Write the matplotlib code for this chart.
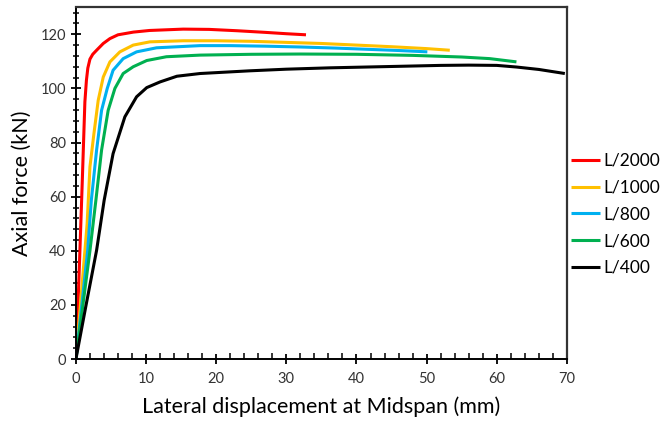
import matplotlib
matplotlib.use("Agg")
import matplotlib.pyplot as plt
from matplotlib.ticker import MultipleLocator

plt.rcParams['font.family'] = ['Lato', 'DejaVu Sans']

# data (lateral displacement mm, axial force kN)
labels = ['L/2000', 'L/1000', 'L/800', 'L/600', 'L/400']
colors = ['#FF0000', '#FFC000', '#00B0F0', '#00B050', '#000000']

x_2000 = [0, 0.3, 0.57, 0.9, 1.28, 1.5, 1.7, 2.0, 2.4, 2.95, 3.9, 4.85, 6.0, 8.2, 10.5, 15.3, 19, 23, 27, 30, 32.8]
y_2000 = [0, 20, 40, 65, 95, 103, 107.5, 110.8, 112.6, 114.1, 116.6, 118.4, 119.8, 120.8, 121.4, 121.9, 121.8, 121.3, 120.7, 120.2, 119.8]

x_1000 = [0, 0.64, 1.28, 1.6, 2.0, 2.57, 3.18, 3.9, 4.85, 6.27, 8.17, 10.55, 15.3, 20, 25, 30, 35, 40, 45, 50, 53.3]
y_1000 = [0, 20, 40, 50, 71, 83.3, 95.6, 104.2, 109.8, 113.5, 116, 117.2, 117.6, 117.6, 117.4, 117, 116.6, 116, 115.4, 114.7, 114.1]

x_800 = [0, 0.84, 1.67, 2.2, 2.95, 3.66, 4.47, 5.3, 6.74, 8.65, 11.5, 17.7, 22, 27, 32, 37, 42, 46, 50.1]
y_800 = [0, 20, 40, 58.7, 77.2, 91.9, 100, 106.7, 111, 113.5, 115, 115.8, 115.8, 115.6, 115.3, 114.9, 114.4, 114, 113.5]

x_600 = [0, 1.0, 2.0, 2.85, 3.66, 4.6, 5.56, 6.74, 8.17, 10.1, 12.9, 17.7, 25, 32, 40, 48, 55, 59, 62.8]
y_600 = [0, 20, 40, 58.7, 77.2, 91.9, 100, 105.5, 108, 110.3, 111.7, 112.3, 112.6, 112.7, 112.6, 112.2, 111.6, 111, 109.8]

x_400 = [0, 1.43, 2.95, 4.03, 5.3, 6.98, 8.65, 10.1, 12.0, 14.4, 17.7, 24.8, 30, 36.2, 45, 52, 56, 60, 62.8, 66, 69.7]
y_400 = [0, 19.7, 40.2, 58.7, 75.9, 89.5, 96.9, 100.3, 102.4, 104.5, 105.5, 106.5, 107.1, 107.6, 108.1, 108.5, 108.6, 108.5, 107.9, 107, 105.5]

xs = [x_2000, x_1000, x_800, x_600, x_400]
ys = [y_2000, y_1000, y_800, y_600, y_400]

fig = plt.figure(figsize=(6.6, 4.23), dpi=100)
ax = fig.add_axes([0.115, 0.151, 0.744, 0.832])

for x, y, c, lab in zip(xs, ys, colors, labels):
    ax.plot(x, y, color=c, lw=2.2, label=lab, solid_capstyle='butt', solid_joinstyle='round')

ax.set_xlim(0, 70)
ax.set_ylim(0, 130)
ax.xaxis.set_major_locator(MultipleLocator(10))
ax.xaxis.set_minor_locator(MultipleLocator(2))
ax.yaxis.set_major_locator(MultipleLocator(20))
ax.yaxis.set_minor_locator(MultipleLocator(4))

ax.tick_params(axis='both', which='major', direction='inout', length=7, width=1.3,
               labelsize=10.5, colors='black', labelcolor='#333333')
ax.tick_params(axis='x', which='minor', direction='in', length=4, width=1.1)
ax.tick_params(axis='y', which='minor', direction='inout', length=5, width=1.1)
ax.tick_params(axis='x', which='major', pad=6)

for s in ['left', 'bottom']:
    ax.spines[s].set_linewidth(1.4)
    ax.spines[s].set_color('black')
for s in ['top', 'right']:
    ax.spines[s].set_linewidth(1.6)
    ax.spines[s].set_color('#333333')

ax.set_xlabel('Lateral displacement at Midspan (mm)', fontsize=15.5, labelpad=7)
ax.set_ylabel('Axial force (kN)', fontsize=15.5, labelpad=6)

fig.legend(loc='center left', bbox_to_anchor=(0.865, 0.493), frameon=False,
           fontsize=12.5, handlelength=1.7, handletextpad=0.15, labelspacing=0.62,
           borderaxespad=0, borderpad=0)

fig.savefig('out.png', dpi=100)
